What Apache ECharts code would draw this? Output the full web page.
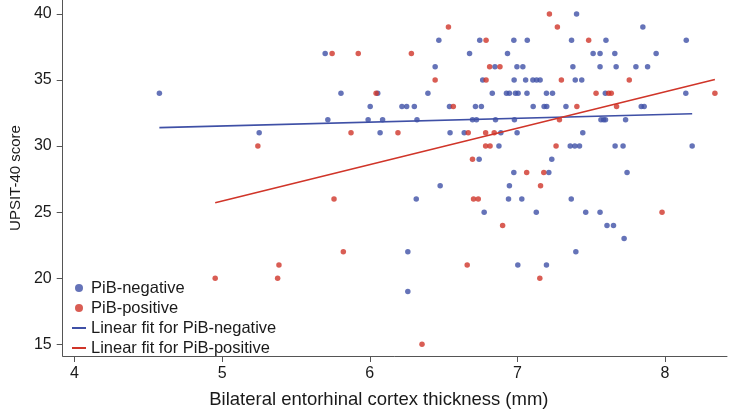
<!DOCTYPE html>
<html>
<head>
<meta charset="utf-8">
<script src="https://cdn.jsdelivr.net/npm/echarts@6/dist/echarts.min.js"></script>
<style>
  html, body { margin: 0; padding: 0; background: #fff; }
  #chart { width: 729px; height: 414px; }
</style>
</head>
<body>
<div id="chart"></div>
<script>
// PiB-negative: entorhinal thickness (mm) and UPSIT-40 score
var negThickness = [4.575, 5.698, 5.805, 6.054, 6.003, 6.218, 5.716, 5.989, 6.087, 5.251,
  6.070, 6.468, 6.745, 6.676, 6.443, 6.848, 6.765, 6.394, 6.830, 6.250,
  6.302, 6.540, 6.716, 6.756, 6.320, 6.696, 6.723, 6.852, 6.544, 6.640,
  6.888, 6.875, 6.741, 6.477, 6.315, 6.775, 6.258, 6.258, 7.401, 6.976,
  7.067, 7.367, 6.933, 7.513, 7.560, 6.997, 7.037, 7.376, 7.560, 6.978,
  7.056, 7.105, 7.130, 7.154, 7.392, 7.436, 6.926, 6.946, 6.987, 7.005,
  7.065, 7.197, 7.238, 7.107, 7.181, 7.199, 7.329, 6.980, 6.998, 7.443,
  7.358, 7.389, 7.421, 7.233, 6.976, 7.213, 6.946, 6.940, 7.030, 7.365,
  7.128, 7.463, 7.560, 7.396, 7.003, 7.197, 7.850, 7.600, 8.144, 7.660,
  7.940, 7.669, 7.803, 7.882, 7.596, 8.141, 7.839, 7.859, 7.566, 7.584,
  7.597, 7.733, 7.662, 7.716, 8.184, 7.743, 7.607, 7.651, 7.723];
var negScore = [34, 37, 34, 34, 33, 33, 32, 32, 32, 31,
  31, 38, 38, 37, 36, 36, 35, 34, 34, 33,
  33, 33, 33, 33, 32, 32, 32, 32, 31, 31,
  31, 30, 29, 27, 26, 25, 22, 19, 40, 38,
  38, 38, 37, 37, 37, 36, 36, 36, 36, 35,
  35, 35, 35, 35, 35, 35, 34, 34, 34, 34,
  34, 34, 34, 33, 33, 33, 33, 32, 31, 31,
  30, 30, 30, 29, 28, 28, 27, 26, 26, 26,
  25, 25, 25, 22, 21, 21, 39, 38, 38, 37,
  37, 36, 36, 36, 34, 34, 33, 33, 32, 32,
  32, 32, 30, 30, 30, 28, 24, 24, 23];

// PiB-positive
var posThickness = [4.953, 5.745, 5.922, 6.043, 5.873, 6.191, 5.242, 5.758, 5.821, 5.385,
  5.376, 6.533, 6.788, 6.282, 6.812, 6.882, 6.443, 6.788, 6.566, 6.667,
  6.785, 6.843, 6.785, 6.815, 6.696, 6.703, 6.735, 6.900, 6.660, 6.354,
  7.217, 7.271, 7.483, 7.298, 7.533, 7.403, 7.285, 7.262, 7.063, 7.179,
  7.157, 7.152, 7.758, 7.618, 7.636, 7.672, 7.980, 8.338];
var posScore = [20, 37, 37, 34, 31, 31, 30, 26, 22, 21,
  20, 39, 38, 37, 36, 36, 35, 35, 33, 31,
  31, 31, 30, 30, 29, 26, 26, 24, 21, 15,
  40, 39, 38, 35, 34, 33, 32, 30, 28, 28,
  27, 20, 35, 34, 34, 33, 25, 34];

var xTicks = [4, 5, 6, 7, 8];
var yTicks = [15, 20, 25, 30, 35, 40];

var blue = "#3f50a6";
var red = "#d03529";
var font = "'Liberation Sans', Arial, sans-serif";

function pairs(xs, ys) {
  return xs.map(function (x, i) { return [x, ys[i]]; });
}

// least squares line over the range of the group
function fitLine(xs, ys) {
  var n = xs.length, sx = 0, sy = 0, sxx = 0, sxy = 0;
  for (var i = 0; i < n; i++) {
    sx += xs[i]; sy += ys[i]; sxx += xs[i] * xs[i]; sxy += xs[i] * ys[i];
  }
  var b = (n * sxy - sx * sy) / (n * sxx - sx * sx);
  var a = (sy - b * sx) / n;
  var lo = Math.min.apply(null, xs), hi = Math.max.apply(null, xs);
  return [[lo, a + b * lo], [hi, a + b * hi]];
}

var myChart = echarts.init(document.getElementById("chart"));
myChart.setOption({
  animation: false,
  textStyle: { fontFamily: font },
  grid: { left: 56, right: 2, top: 0, bottom: 55 },
  legend: [
    {
      data: ["PiB-negative", "PiB-positive"],
      orient: "vertical",
      left: 70,
      top: 273,
      icon: "circle",
      itemWidth: 8,
      itemHeight: 8,
      itemGap: 0,
      textStyle: { fontSize: 16.5, color: "#1a1a1a", lineHeight: 20, padding: [0, 0, 0, 3] },
    },
    {
      data: ["Linear fit for PiB-negative", "Linear fit for PiB-positive"],
      orient: "vertical",
      left: 67,
      top: 313,
      icon: "rect",
      itemWidth: 14,
      itemHeight: 2,
      itemGap: 0,
      textStyle: { fontSize: 16.5, color: "#1a1a1a", lineHeight: 20 },
    },
  ],
  xAxis: {
    type: "value",
    min: 3.92,
    max: 8.42,
    name: "Bilateral entorhinal cortex thickness (mm)",
    nameLocation: "middle",
    nameGap: 34,
    nameTextStyle: { fontSize: 18.5, color: "#1a1a1a", padding: [0, 32, 0, 0] },
    axisLine: { lineStyle: { color: "#555", width: 1 } },
    axisTick: { show: true, length: 6, lineStyle: { color: "#555" }, customValues: xTicks },
    axisLabel: { fontSize: 16, color: "#1a1a1a", margin: 10, customValues: xTicks },
    splitLine: { show: false },
  },
  yAxis: {
    type: "value",
    min: 14.12,
    max: 41.05,
    name: "UPSIT-40 score",
    nameLocation: "middle",
    nameGap: 35,
    nameTextStyle: { fontSize: 15, color: "#1a1a1a" },
    axisLine: { show: true, lineStyle: { color: "#555", width: 1 } },
    axisTick: { show: true, length: 6, lineStyle: { color: "#555" }, customValues: yTicks },
    axisLabel: { fontSize: 16, color: "#1a1a1a", margin: 11, customValues: yTicks },
    splitLine: { show: false },
  },
  series: [
    {
      name: "PiB-negative",
      type: "scatter",
      symbol: "circle",
      symbolSize: 5.5,
      itemStyle: { color: blue },
      data: pairs(negThickness, negScore),
    },
    {
      name: "PiB-positive",
      type: "scatter",
      symbol: "circle",
      symbolSize: 5.5,
      itemStyle: { color: red },
      data: pairs(posThickness, posScore),
    },
    {
      name: "Linear fit for PiB-negative",
      type: "line",
      symbol: "none",
      itemStyle: { color: blue },
      lineStyle: { color: blue, width: 1.6 },
      data: fitLine(negThickness, negScore),
    },
    {
      name: "Linear fit for PiB-positive",
      type: "line",
      symbol: "none",
      itemStyle: { color: red },
      lineStyle: { color: red, width: 1.6 },
      data: fitLine(posThickness, posScore),
    },
  ],
});
</script>
</body>
</html>
